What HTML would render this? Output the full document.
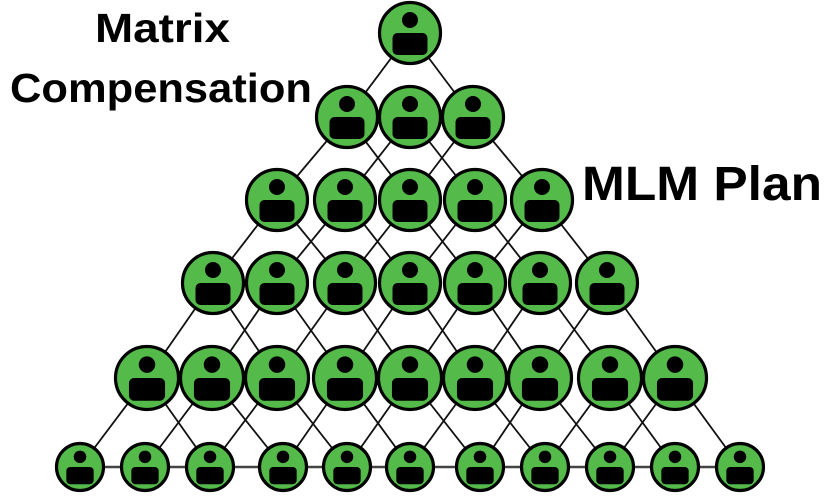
<!DOCTYPE html>
<html><head><style>html,body{margin:0;padding:0;background:#fff;}svg{display:block}</style></head>
<body>
<svg id="s" width="840" height="499" viewBox="0 0 840 499" xmlns="http://www.w3.org/2000/svg">
<g id="lines" stroke="#111" stroke-width="1.8"></g>
<g id="nodes"></g>
<g font-family="Liberation Sans, sans-serif" font-weight="bold" fill="#000">
<text x="95" y="42" font-size="41" textLength="135" lengthAdjust="spacingAndGlyphs">Matrix</text>
<text x="10" y="102" font-size="41" textLength="302" lengthAdjust="spacingAndGlyphs">Compensation</text>
<text x="582" y="200" font-size="48" textLength="240" lengthAdjust="spacingAndGlyphs">MLM Plan</text>
</g>
</svg>
<script>
var rows=[
{y:33,r:32,xs:[410]},
{y:117,r:32,xs:[347,410,473]},
{y:200,r:32,xs:[277,345,410,475,542]},
{y:283,r:32,xs:[213,277,345,410,475,540,607]},
{y:378,r:33,xs:[147,212,277,345,410,475,540,610,675]},
{y:467,r:25,xs:[80,145,210,283,347,410,480,545,610,675,740]}];
var NS="http://www.w3.org/2000/svg",L=document.getElementById('lines'),N=document.getElementById('nodes');
function el(p,t,a){var e=document.createElementNS(NS,t);for(var k in a)e.setAttribute(k,a[k]);p.appendChild(e);return e;}
for(var i=0;i<rows.length-1;i++){var a=rows[i],b=rows[i+1];
 a.xs.forEach(function(x,j){[j,j+2].forEach(function(k){el(L,'line',{x1:x,y1:a.y,x2:b.xs[k],y2:b.y});});});}
var br=rows[5];el(L,'line',{x1:br.xs[0],y1:br.y,x2:br.xs[10],y2:br.y,'stroke-width':2.5,stroke:'#444'});
rows.forEach(function(r){r.xs.forEach(function(x){
 var R=r.r,s=R/32;
 el(N,'circle',{cx:x,cy:r.y,r:R-1.5,fill:'#54bb4a',stroke:'#000','stroke-width':3.2});
 el(N,'circle',{cx:x,cy:r.y-13*s,r:8*s,fill:'#000'});
 el(N,'rect',{x:x-17.5*s,y:r.y,width:35*s,height:22*s,rx:5*s,fill:'#000'});
});});
</script>
</body></html>
